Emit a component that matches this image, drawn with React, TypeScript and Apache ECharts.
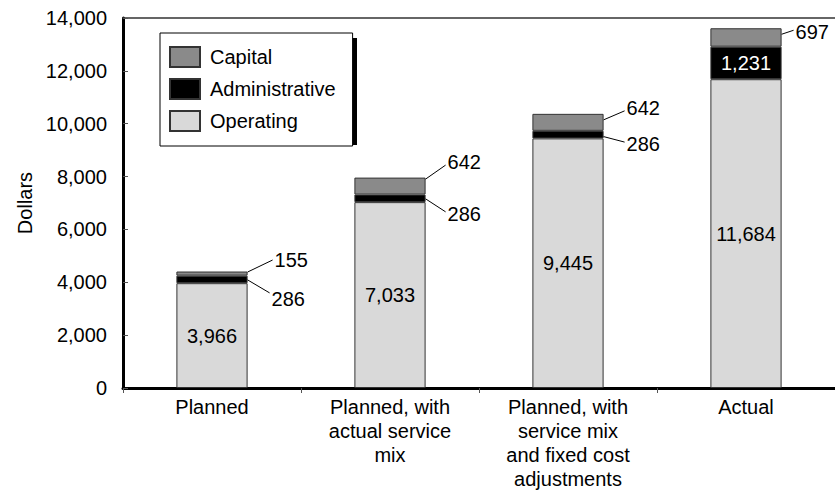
import React, { useEffect, useRef } from "react";
import * as echarts from "echarts";

const categories = [
  "Planned",
  "Planned, with\nactual service\nmix",
  "Planned, with\nservice mix\nand fixed cost\nadjustments",
  "Actual",
];
const operating = [3966, 7033, 9445, 11684];
const administrative = [286, 286, 286, 1231];
const capital = [155, 642, 642, 697];
const legendNames = ["Capital", "Administrative", "Operating"];

// which segments get an outside label with a leader line
const outsideLabels = [
  { cat: 0, kind: "capital" },
  { cat: 0, kind: "administrative" },
  { cat: 1, kind: "capital" },
  { cat: 1, kind: "administrative" },
  { cat: 2, kind: "capital" },
  { cat: 2, kind: "administrative" },
  { cat: 3, kind: "capital" },
];
// leader line layout (pixels): start offset, line vector, text offset
const leaderLayout = [
  { sy: 0.5, dx: 25, dy: -12, ty: 0 },
  { sy: 0.5, dx: 22, dy: 13, ty: 6 },
  { sy: 1.5, dx: 20, dy: -14, ty: -3.5 },
  { sy: 0.5, dx: 20, dy: 13, ty: 2.5 },
  { sy: 6, dx: 21, dy: -9, ty: -2.5 },
  { sy: 2, dx: 21, dy: 5.5, ty: 1.5 },
  { sy: 6, dx: 12, dy: -4, ty: 1.5 },
];

const FONT = '"Liberation Sans", Arial, Helvetica, sans-serif';
const fmt = (v: number) => v.toLocaleString("en-US");

export default function App() {
  const ref = useRef<HTMLDivElement>(null);
  useEffect(() => {
    if (!ref.current) return;
    const chart = echarts.init(ref.current, undefined, { renderer: "svg" });

    const anchorData = outsideLabels.map((a) => {
      const i = a.cat;
      const v =
        a.kind === "capital"
          ? operating[i] + administrative[i] + capital[i]
          : operating[i] + administrative[i] / 2;
      return [i, v];
    });
    const labelTexts = outsideLabels.map((a) =>
      fmt(a.kind === "capital" ? capital[a.cat] : administrative[a.cat])
    );

    const option: any = {
      animation: false,
      textStyle: { fontFamily: FONT },
      grid: { left: 123, right: -4, top: 18, bottom: 113 },
      graphic: [
        {
          type: "rect",
          z: 1,
          shape: { x: 165, y: 38, width: 192, height: 107 },
          style: { fill: "#000" },
        },
      ],
      legend: {
        orient: "vertical",
        left: 160,
        top: 33,
        z: 10,
        data: legendNames,
        icon: "rect",
        itemWidth: 30,
        itemHeight: 20,
        itemGap: 10,
        padding: [13, 17, 14, 9],
        backgroundColor: "#fff",
        borderColor: "#000",
        borderWidth: 1,
        selectedMode: false,
        textStyle: {
          fontSize: 20,
          color: "#000",
          fontFamily: FONT,
          padding: [0, 0, 0, 5],
        },
      },
      xAxis: [
        {
          type: "category",
          data: categories,
          axisLine: { lineStyle: { color: "#000", width: 3 } },
          axisTick: { show: true, length: 5, lineStyle: { color: "#555", width: 1 } },
          axisLabel: {
            color: "#000",
            fontSize: 20,
            lineHeight: 24,
            margin: 7,
            interval: 0,
            fontFamily: FONT,
          },
        },
        {
          type: "category",
          position: "top",
          data: categories,
          axisLine: { lineStyle: { color: "#333", width: 1.5 } },
          axisTick: { show: false },
          axisLabel: { show: false },
        },
      ],
      yAxis: {
        type: "value",
        min: 0,
        max: 14000,
        interval: 2000,
        name: "Dollars",
        nameLocation: "middle",
        nameGap: 88,
        nameTextStyle: { fontSize: 20, color: "#000", fontFamily: FONT },
        axisLine: { show: true, lineStyle: { color: "#000", width: 3 } },
        axisTick: { show: true, inside: true, length: 5, lineStyle: { color: "#555", width: 1 } },
        axisLabel: {
          color: "#000",
          fontSize: 20,
          margin: 16,
          fontFamily: FONT,
          formatter: (v: number) => fmt(v),
        },
        splitLine: { show: false },
      },
      series: [
        {
          name: "Operating",
          type: "bar",
          stack: "total",
          barWidth: "40%",
          itemStyle: { color: "#d9d9d9", borderColor: "#333", borderWidth: 1 },
          label: {
            show: true,
            position: "inside",
            color: "#000",
            fontSize: 20,
            fontFamily: FONT,
            formatter: (p: any) => fmt(p.value),
          },
          data: operating,
        },
        {
          name: "Administrative",
          type: "bar",
          stack: "total",
          barWidth: "40%",
          itemStyle: { color: "#000", borderColor: "#333", borderWidth: 1 },
          label: {
            show: false,
            position: "inside",
            color: "#fff",
            fontSize: 20,
            fontFamily: FONT,
            formatter: (p: any) => fmt(p.value),
          },
          data: administrative.map((v, i) =>
            i === 3 ? { value: v, label: { show: true } } : v
          ),
        },
        {
          name: "Capital",
          type: "bar",
          stack: "total",
          barWidth: "40%",
          itemStyle: { color: "#8a8a8a", borderColor: "#333", borderWidth: 1 },
          data: capital,
        },
        {
          type: "custom",
          name: "leaders",
          z: 5,
          clip: false,
          data: anchorData,
          renderItem: (params: any, api: any) => {
            const L = leaderLayout[params.dataIndex];
            const p = api.coord([api.value(0), api.value(1)]);
            const half = (api.size([1, 0])[0] * 0.4) / 2;
            const x0 = p[0] + half;
            const y0 = p[1] + L.sy;
            const x1 = x0 + L.dx;
            const y1 = y0 + L.dy;
            return {
              type: "group",
              children: [
                {
                  type: "line",
                  shape: { x1: x0, y1: y0, x2: x1, y2: y1 },
                  style: { stroke: "#000", lineWidth: 1 },
                },
                {
                  type: "text",
                  x: x1 + 2,
                  y: y1 + L.ty,
                  style: {
                    text: labelTexts[params.dataIndex],
                    fill: "#000",
                    font: `20px ${FONT}`,
                    verticalAlign: "middle",
                    align: "left",
                  },
                },
              ],
            };
          },
        },
      ],
    };
    chart.setOption(option);
    return () => chart.dispose();
  }, []);

  return (
    <div
      ref={ref}
      style={{ position: "fixed", left: 0, top: 0, width: 835, height: 501, background: "#fff" }}
    />
  );
}
